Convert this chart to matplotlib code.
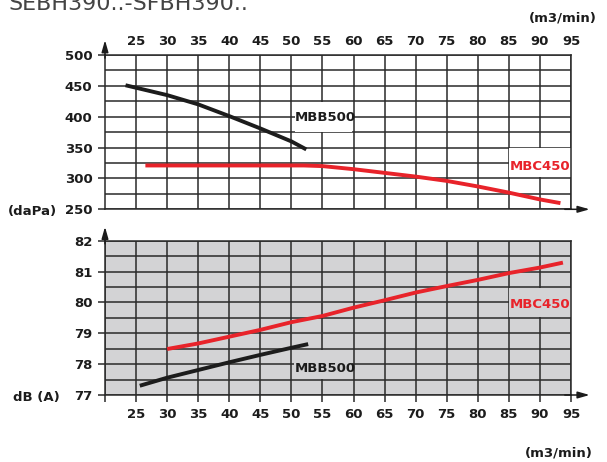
import matplotlib
matplotlib.use("Agg")
import matplotlib.pyplot as plt
from matplotlib.patches import Rectangle
import numpy as np

# ---- data ----
flow_ticks = [25, 30, 35, 40, 45, 50, 55, 60, 65, 70, 75, 80, 85, 90, 95]

p_mbb500_x = [23.3, 30, 35, 40, 45, 50, 52.4]
p_mbb500_y = [451, 435, 420, 401, 381, 360, 347]
p_mbc450_x = [26.5, 35, 45, 52, 55, 60, 65, 70, 75, 80, 85, 90, 93.3]
p_mbc450_y = [321, 321, 321, 321, 320, 315, 309, 303, 296, 287, 277, 266, 260]

n_mbc450_x = [30, 35, 40, 45, 50, 55, 60, 65, 70, 75, 80, 85, 90, 93.7]
n_mbc450_y = [78.49, 78.67, 78.89, 79.11, 79.36, 79.56, 79.83, 80.07, 80.32, 80.53, 80.73, 80.95, 81.13, 81.29]
n_mbb500_x = [25.6, 30, 35, 40, 45, 50, 52.7]
n_mbb500_y = [77.30, 77.56, 77.81, 78.06, 78.30, 78.53, 78.65]

p_yticks = [250, 300, 350, 400, 450, 500]
n_yticks = [77, 78, 79, 80, 81, 82]

RED = "#e8232a"
BLK = "#1c1c1c"
GRID = "#2a2a2a"
GRAY = "#d3d3d5"
FONT = "DejaVu Sans"

plt.rcParams['font.family'] = [FONT]

fig = plt.figure(figsize=(6.07, 4.62), dpi=100)
W, H = 607, 462

def fig_rect(x0, y0, x1, y1):
    return [x0 / W, 1 - y1 / H, (x1 - x0) / W, (y1 - y0) / H]

ax1 = fig.add_axes(fig_rect(105, 55, 571, 209.3))
ax2 = fig.add_axes(fig_rect(105, 240.7, 571, 395))

tick_kw = dict(fontsize=9.5, fontweight='bold', color=BLK)

for ax in (ax1, ax2):
    ax.set_xlim(20, 95)
    ax.set_xticks(flow_ticks)
    ax.set_xticklabels([str(v) for v in flow_ticks], **tick_kw)
    ax.grid(True, which='both', color=GRID, lw=1.1)
    ax.set_axisbelow(True)
    for s in ax.spines.values():
        s.set_color(GRID)
        s.set_linewidth(1.1)

# top chart
ax1.set_ylim(250, 500)
ax1.set_yticks(p_yticks)
ax1.set_yticklabels([str(v) for v in p_yticks], **tick_kw)
ax1.set_yticks(np.arange(275, 500, 50), minor=True)
ax1.xaxis.tick_top()
ax1.tick_params(axis='x', which='both', length=0, pad=5)
ax1.tick_params(axis='y', which='major', length=5, width=1.1, color=GRID, pad=4)
ax1.tick_params(axis='y', which='minor', length=0)

ax1.plot(p_mbb500_x, p_mbb500_y, color=BLK, lw=2.8, solid_capstyle='butt', zorder=3)
ax1.plot(p_mbc450_x, p_mbc450_y, color=RED, lw=2.8, solid_capstyle='butt', zorder=3)

lab_kw = dict(fontsize=9.5, fontweight='bold', ha='center', va='center', zorder=4)
ax1.add_patch(Rectangle((50.5, 375.8), 9.3, 48.4, fc='white', ec='none', zorder=2))
ax1.text(55.5, 399, "MBB500", color=BLK, **lab_kw)
ax1.add_patch(Rectangle((85.1, 302), 9.85, 47.3, fc='white', ec='none', zorder=2))
ax1.text(90.0, 320, "MBC450", color=RED, **lab_kw)

# bottom chart
ax2.set_facecolor(GRAY)
ax2.set_ylim(77, 82)
ax2.set_yticks(n_yticks)
ax2.set_yticklabels([str(v) for v in n_yticks], **tick_kw)
ax2.set_yticks(np.arange(77.5, 82, 1.0), minor=True)
ax2.set_xticks([20] + flow_ticks)
ax2.set_xticklabels([""] + [str(v) for v in flow_ticks], **tick_kw)
ax2.tick_params(axis='x', which='major', length=5, width=1.1, color=GRID, pad=4)
ax2.tick_params(axis='y', which='major', length=5, width=1.1, color=GRID, pad=4)
ax2.tick_params(axis='y', which='minor', length=0)

ax2.plot(n_mbc450_x, n_mbc450_y, color=RED, lw=2.8, solid_capstyle='butt', zorder=3)
ax2.plot(n_mbb500_x, n_mbb500_y, color=BLK, lw=2.8, solid_capstyle='butt', zorder=3)
ax2.add_patch(Rectangle((85.1, 79.53), 9.85, 0.94, fc=GRAY, ec='none', zorder=2))
ax2.text(90.0, 79.93, "MBC450", color=RED, **lab_kw)
ax2.add_patch(Rectangle((50.4, 77.53), 9.4, 0.94, fc=GRAY, ec='none', zorder=2))
ax2.text(55.5, 77.87, "MBB500", color=BLK, **lab_kw)

# axis arrows
arr = dict(arrowstyle='-|>,head_length=0.7,head_width=0.2', color=BLK, lw=1.1,
           mutation_scale=10, shrinkA=0, shrinkB=0)
ax1.annotate('', xy=(20, 524), xytext=(20, 495), arrowprops=arr, annotation_clip=False)
ax1.annotate('', xy=(98, 250), xytext=(94, 250), arrowprops=arr, annotation_clip=False)
ax2.annotate('', xy=(20, 82.45), xytext=(20, 81.9), arrowprops=arr, annotation_clip=False)
ax2.annotate('', xy=(98, 77), xytext=(94, 77), arrowprops=arr, annotation_clip=False)

# unit labels
fig.text(32 / W, 1 - 211 / H, "(daPa)", fontsize=9.5, fontweight='bold', color=BLK, ha='center', va='center')
fig.text(36 / W, 1 - 397 / H, "dB (A)", fontsize=9.5, fontweight='bold', color=BLK, ha='center', va='center')
fig.text(597 / W, 1 - 18 / H, "(m3/min)", fontsize=9.5, fontweight='bold', color=BLK, ha='right', va='center')
fig.text(593 / W, 1 - 453 / H, "(m3/min)", fontsize=9.5, fontweight='bold', color=BLK, ha='right', va='center')

# title (cut off at the top edge, as in the reference)
fig.text(8 / W, 1 - 10 / H, "SEBH390..-SFBH390..", fontsize=16, color="#444444", ha='left', va='baseline')

fig.savefig("out.png", dpi=100)
